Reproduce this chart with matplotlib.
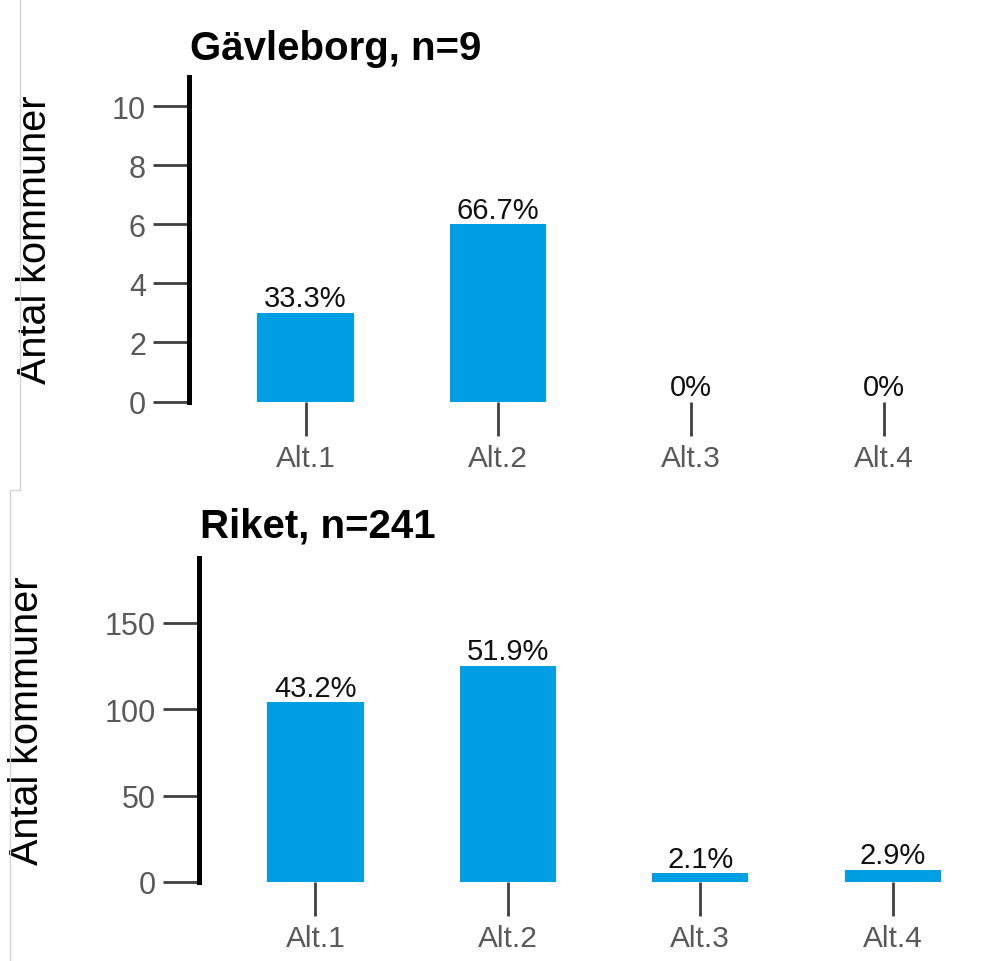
import matplotlib.pyplot as plt
from matplotlib.lines import Line2D

plt.rcParams['font.family'] = ['Liberation Sans', 'DejaVu Sans']

# data
categories = ['Alt.1', 'Alt.2', 'Alt.3', 'Alt.4']
gavle_counts = [3, 6, 0, 0]
gavle_pct = ['33.3%', '66.7%', '0%', '0%']
riket_counts = [104, 125, 5, 7]
riket_pct = ['43.2%', '51.9%', '2.1%', '2.9%']

W, H = 995, 962
BLUE = '#009FE3'
GREY = '#595959'

fig = plt.figure(figsize=(W / 100, H / 100), dpi=100)


def px_axes(left, top, right, bottom):
    return fig.add_axes([left / W, 1 - bottom / H, (right - left) / W, (bottom - top) / H])


def draw_panel(ax, counts, pct, ymax, yticks, title, title_xy, label_x):
    x = range(len(categories))
    ax.bar(x, counts, width=0.5, color=BLUE)
    for xi, c, p in zip(x, counts, pct):
        ax.annotate(p, (xi, c), xytext=(0, 0.5), textcoords='offset points',
                    ha='center', va='bottom', fontsize=21, color='#111111')
    ax.set_xlim(-0.605, 3.5)
    ax.set_ylim(0, ymax)
    ax.set_xticks(list(x))
    ax.set_xticklabels(categories)
    ax.set_yticks(yticks)
    for s in ['top', 'right', 'bottom']:
        ax.spines[s].set_visible(False)
    ax.spines['left'].set_linewidth(3.6)
    ax.spines['left'].set_color('black')
    ax.tick_params(axis='y', length=26, width=2, color='#404040',
                   labelsize=22, labelcolor=GREY, pad=5)
    ax.tick_params(axis='x', length=24.5, width=2, color='#404040',
                   labelsize=21.5, labelcolor=GREY, pad=6)
    ax.set_ylabel('Antal kommuner', fontsize=28.5, va='center')
    ax.yaxis.set_label_coords(label_x, 0.5)
    fig.text(title_xy[0] / W, 1 - title_xy[1] / H, title, fontsize=29,
             fontweight='bold', ha='left', va='baseline')


ax1 = px_axes(189, 77.5, 980, 402.5)
draw_panel(ax1, gavle_counts, gavle_pct, 11, [0, 2, 4, 6, 8, 10],
           'Gävleborg, n=9', (190, 60), (35 - 189) / 791)

ax2 = px_axes(199, 559, 989, 883)
draw_panel(ax2, riket_counts, riket_pct, 187.6, [0, 50, 100, 150],
           'Riket, n=241', (200, 538), (27 - 199) / 790)

# thin frame edges from the screenshots
edge = '#d4d4d4'
fig.add_artist(Line2D([20 / W, 20 / W], [1, 1 - 491 / H], color=edge, lw=1,
                      transform=fig.transFigure))
fig.add_artist(Line2D([10 / W, 20 / W], [1 - 491 / H, 1 - 491 / H], color=edge,
                      lw=1, transform=fig.transFigure))
fig.add_artist(Line2D([10 / W, 10 / W], [1 - 491 / H, 0], color=edge, lw=1,
                      transform=fig.transFigure))

fig.savefig('out.png', dpi=100, facecolor='white')
